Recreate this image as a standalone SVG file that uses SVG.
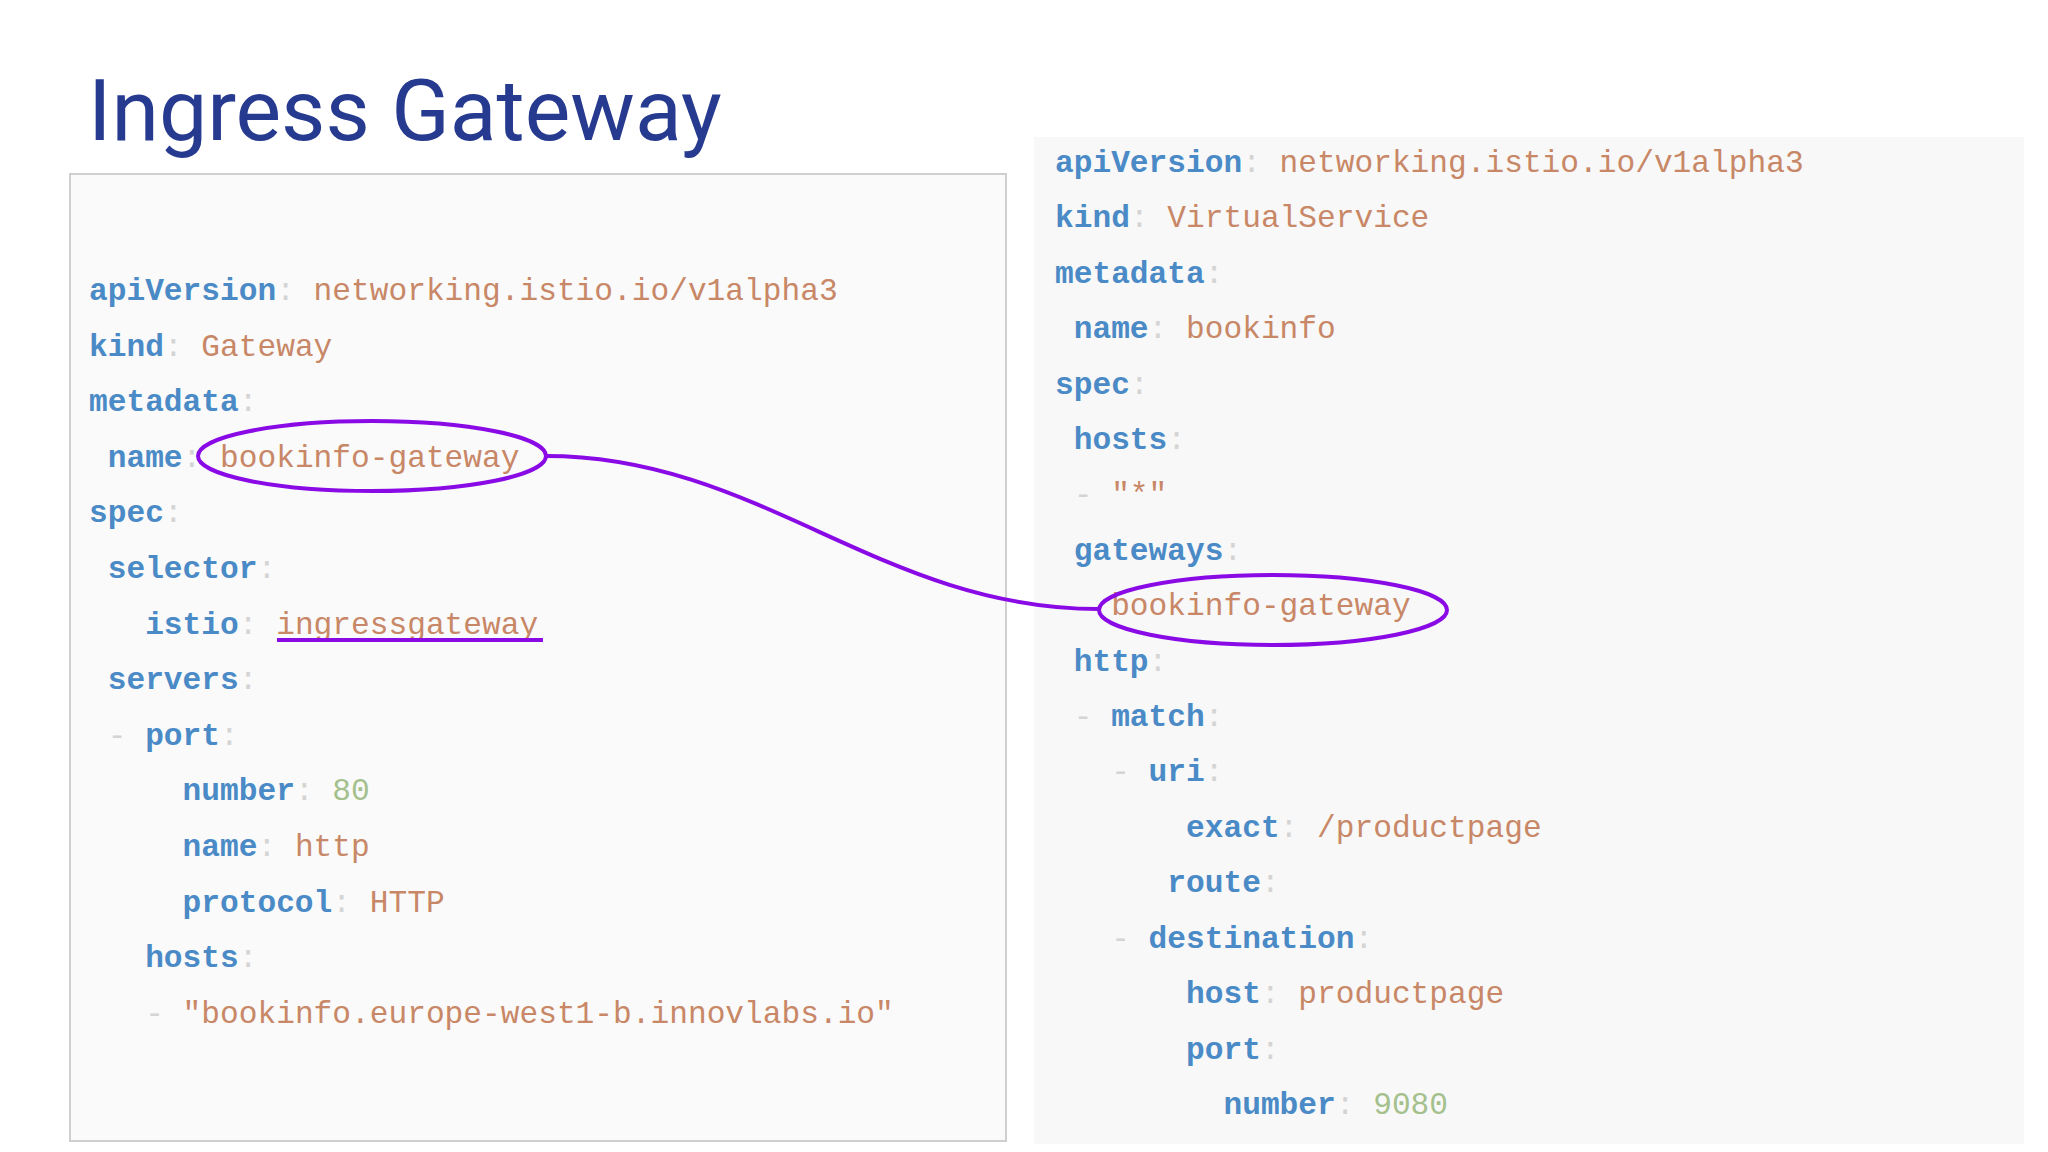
<svg xmlns="http://www.w3.org/2000/svg" width="2048" height="1152" viewBox="0 0 2048 1152">
<style>
.c{font-family:"Liberation Mono","DejaVu Sans Mono",monospace;font-size:31.2px;white-space:pre}
.k{fill:#4a8ac6;font-weight:bold}
.v{fill:#c88766}
.n{fill:#a4c08c}
.p{fill:#d4d4d4}
.t{font-family:Roboto,"Liberation Sans",sans-serif;font-size:86px;fill:#263a8f}
.o{fill:none;stroke:#8a0ae6;stroke-width:4}
</style>
<rect width="2048" height="1152" fill="#fff"/>
<text class="t" x="88" y="140">Ingress Gateway</text>
<g id="gateway">
<rect x="70" y="174" width="936" height="967" fill="#fafafa" stroke="#cfcfcf" stroke-width="2"/>
<text class="c" x="89" y="300" xml:space="preserve"><tspan class="k">apiVersion</tspan><tspan class="p">:</tspan> <tspan class="v">networking.istio.io/v1alpha3</tspan></text>
<text class="c" x="89" y="356" xml:space="preserve"><tspan class="k">kind</tspan><tspan class="p">:</tspan> <tspan class="v">Gateway</tspan></text>
<text class="c" x="89" y="411" xml:space="preserve"><tspan class="k">metadata</tspan><tspan class="p">:</tspan></text>
<text class="c" x="89" y="467" xml:space="preserve"> <tspan class="k">name</tspan><tspan class="p">:</tspan> <tspan class="v">bookinfo-gateway</tspan></text>
<text class="c" x="89" y="522" xml:space="preserve"><tspan class="k">spec</tspan><tspan class="p">:</tspan></text>
<text class="c" x="89" y="578" xml:space="preserve"> <tspan class="k">selector</tspan><tspan class="p">:</tspan></text>
<text class="c" x="89" y="634" xml:space="preserve">   <tspan class="k">istio</tspan><tspan class="p">:</tspan> <tspan class="v">ingressgateway</tspan></text>
<text class="c" x="89" y="689" xml:space="preserve"> <tspan class="k">servers</tspan><tspan class="p">:</tspan></text>
<text class="c" x="89" y="745" xml:space="preserve"> <tspan class="p">-</tspan> <tspan class="k">port</tspan><tspan class="p">:</tspan></text>
<text class="c" x="89" y="800" xml:space="preserve">     <tspan class="k">number</tspan><tspan class="p">:</tspan> <tspan class="n">80</tspan></text>
<text class="c" x="89" y="856" xml:space="preserve">     <tspan class="k">name</tspan><tspan class="p">:</tspan> <tspan class="v">http</tspan></text>
<text class="c" x="89" y="912" xml:space="preserve">     <tspan class="k">protocol</tspan><tspan class="p">:</tspan> <tspan class="v">HTTP</tspan></text>
<text class="c" x="89" y="967" xml:space="preserve">   <tspan class="k">hosts</tspan><tspan class="p">:</tspan></text>
<text class="c" x="89" y="1023" xml:space="preserve">   <tspan class="p">-</tspan> <tspan class="v">"bookinfo.europe-west1-b.innovlabs.io"</tspan></text>
<line x1="277" y1="640" x2="543" y2="640" stroke="#8a0ae6" stroke-width="4"/>
<ellipse class="o" cx="372" cy="456" rx="174" ry="35"/>
</g>
<g id="virtualservice">
<rect x="1034" y="137" width="990" height="1007" fill="#f8f8f8"/>
<text class="c" x="1055" y="172" xml:space="preserve"><tspan class="k">apiVersion</tspan><tspan class="p">:</tspan> <tspan class="v">networking.istio.io/v1alpha3</tspan></text>
<text class="c" x="1055" y="227" xml:space="preserve"><tspan class="k">kind</tspan><tspan class="p">:</tspan> <tspan class="v">VirtualService</tspan></text>
<text class="c" x="1055" y="283" xml:space="preserve"><tspan class="k">metadata</tspan><tspan class="p">:</tspan></text>
<text class="c" x="1055" y="338" xml:space="preserve"> <tspan class="k">name</tspan><tspan class="p">:</tspan> <tspan class="v">bookinfo</tspan></text>
<text class="c" x="1055" y="394" xml:space="preserve"><tspan class="k">spec</tspan><tspan class="p">:</tspan></text>
<text class="c" x="1055" y="449" xml:space="preserve"> <tspan class="k">hosts</tspan><tspan class="p">:</tspan></text>
<text class="c" x="1055" y="504" xml:space="preserve"> <tspan class="p">-</tspan> <tspan class="v">"*"</tspan></text>
<text class="c" x="1055" y="560" xml:space="preserve"> <tspan class="k">gateways</tspan><tspan class="p">:</tspan></text>
<text class="c" x="1055" y="615" xml:space="preserve">   <tspan class="v">bookinfo-gateway</tspan></text>
<text class="c" x="1055" y="671" xml:space="preserve"> <tspan class="k">http</tspan><tspan class="p">:</tspan></text>
<text class="c" x="1055" y="726" xml:space="preserve"> <tspan class="p">-</tspan> <tspan class="k">match</tspan><tspan class="p">:</tspan></text>
<text class="c" x="1055" y="781" xml:space="preserve">   <tspan class="p">-</tspan> <tspan class="k">uri</tspan><tspan class="p">:</tspan></text>
<text class="c" x="1055" y="837" xml:space="preserve">       <tspan class="k">exact</tspan><tspan class="p">:</tspan> <tspan class="v">/productpage</tspan></text>
<text class="c" x="1055" y="892" xml:space="preserve">      <tspan class="k">route</tspan><tspan class="p">:</tspan></text>
<text class="c" x="1055" y="948" xml:space="preserve">   <tspan class="p">-</tspan> <tspan class="k">destination</tspan><tspan class="p">:</tspan></text>
<text class="c" x="1055" y="1003" xml:space="preserve">       <tspan class="k">host</tspan><tspan class="p">:</tspan> <tspan class="v">productpage</tspan></text>
<text class="c" x="1055" y="1059" xml:space="preserve">       <tspan class="k">port</tspan><tspan class="p">:</tspan></text>
<text class="c" x="1055" y="1114" xml:space="preserve">         <tspan class="k">number</tspan><tspan class="p">:</tspan> <tspan class="n">9080</tspan></text>
<ellipse class="o" cx="1273" cy="610" rx="174" ry="35"/>
</g>
<g id="connectors">
<path class="o" d="M546,456 C760,456 880,609 1099,609"/>
</g>
</svg>
